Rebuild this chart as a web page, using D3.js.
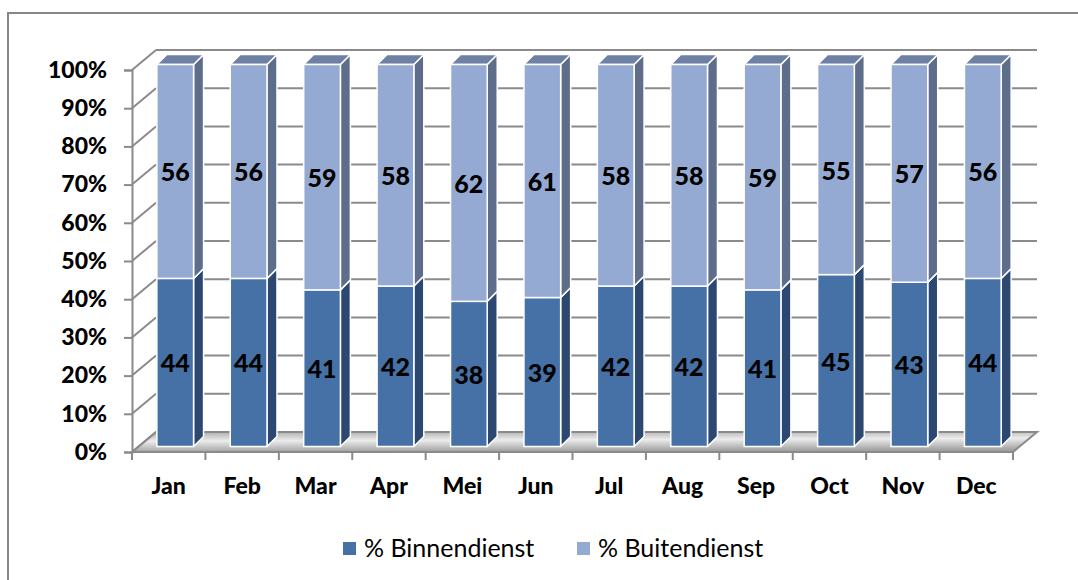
<!DOCTYPE html>
<html>
<head>
<meta charset="utf-8">
<script src="https://cdn.jsdelivr.net/npm/d3@7"></script>
<style>
  body { margin: 0; background: #fff; }
  svg { display: block; font-family: Lato, "Open Sans", sans-serif; }
</style>
</head>
<body>
<svg id="chart" width="1078" height="580"></svg>
<script>
// data
var months = ["Jan", "Feb", "Mar", "Apr", "Mei", "Jun", "Jul", "Aug", "Sep", "Oct", "Nov", "Dec"];
var binnendienst = [44, 44, 41, 42, 38, 39, 42, 42, 41, 45, 43, 44];
var buitendienst = [56, 56, 59, 58, 62, 61, 58, 58, 59, 55, 57, 56];
var yTicks = [0, 10, 20, 30, 40, 50, 60, 70, 80, 90, 100];
var seriesNames = ["% Binnendienst", "% Buitendienst"];

var svg = d3.select("#chart");

// outer frame
svg.append("rect")
	.attr("x", 8).attr("y", 13)
	.attr("width", 1100).attr("height", 620)
	.attr("fill", "none")
	.attr("stroke", "#878787")
	.attr("stroke-width", 2);

var plot = {left: 132, right: 1013, bottom: 452, top: 70};
var wall = {dx: 24, dy: -20};       // depth of the side wall / floor
var barShift = {dx: 6.5, dy: -5.5}; // bar front face sits a bit back
var barDepth = {dx: 10, dy: -10};

var x = d3.scaleBand().domain(months)
	.range([plot.left, plot.right])
	.paddingInner(0.5).paddingOuter(0.25);
var xEdge = d3.scaleBand().domain(months).range([plot.left, plot.right]);
var y = d3.scaleLinear().domain([0, 100]).range([plot.bottom, plot.top]);

var gridColor = "#8a8a8a";

// floor gradient
var defs = svg.append("defs");
var grad = defs.append("linearGradient").attr("id", "floorGrad")
	.attr("x1", 0).attr("y1", 0).attr("x2", 0.15).attr("y2", 1);
grad.append("stop").attr("offset", "0%").attr("stop-color", "#adadad");
grad.append("stop").attr("offset", "45%").attr("stop-color", "#ececec");
grad.append("stop").attr("offset", "100%").attr("stop-color", "#a2a2a2");

// floor
var floorPts = [
	[plot.left, y(0)], [plot.right, y(0)],
	[plot.right + wall.dx, y(0) + wall.dy], [plot.left + wall.dx, y(0) + wall.dy]
];
svg.append("polygon")
	.attr("points", floorPts.map(function(p) { return p.join(","); }).join(" "))
	.attr("fill", "url(#floorGrad)")
	.attr("stroke", gridColor)
	.attr("stroke-width", 2);

// back wall gridlines + side wall diagonals
var grid = svg.append("g").attr("class", "grid")
	.attr("stroke", gridColor).attr("stroke-width", 2).attr("fill", "none");

grid.selectAll(".back")
	.data(yTicks.filter(function(d) { return d > 0; }))
	.enter().append("line")
		.attr("x1", plot.left + wall.dx)
		.attr("x2", plot.right + wall.dx)
		.attr("y1", function(d) { return y(d) + wall.dy; })
		.attr("y2", function(d) { return y(d) + wall.dy; });

grid.selectAll(".side")
	.data(yTicks)
	.enter().append("line")
		.attr("x1", plot.left)
		.attr("x2", plot.left + wall.dx)
		.attr("y1", function(d) { return y(d); })
		.attr("y2", function(d) { return y(d) + wall.dy; });

// y axis
var yAxis = svg.append("g")
	.attr("transform", "translate(" + plot.left + ",0)")
	.call(d3.axisLeft(y).tickValues(yTicks).tickSize(8).tickPadding(17)
		.tickFormat(function(d) { return d + "%"; }));
yAxis.select(".domain").attr("stroke", gridColor).attr("stroke-width", 2);
yAxis.selectAll(".tick line").attr("stroke", gridColor).attr("stroke-width", 2);
yAxis.selectAll(".tick text")
	.attr("fill", "#000")
	.style("font-family", "Lato, sans-serif")
	.style("font-size", "23px")
	.style("font-weight", "900");

// x axis
var xAxis = svg.append("g")
	.attr("transform", "translate(0," + plot.bottom + ")")
	.call(d3.axisBottom(xEdge).tickSize(0).tickPadding(26));
xAxis.select(".domain").remove();
xAxis.selectAll(".tick text")
	.attr("fill", "#000")
	.style("font-family", "Lato, sans-serif")
	.style("font-size", "23px")
	.style("font-weight", "900");
xAxis.selectAll(".edge")
	.data(d3.range(months.length + 1))
	.enter().append("line")
		.attr("x1", function(i) { return plot.left + i * xEdge.step(); })
		.attr("x2", function(i) { return plot.left + i * xEdge.step(); })
		.attr("y1", 0).attr("y2", 8)
		.attr("stroke", gridColor).attr("stroke-width", 2);

// bars
var colors = [
	{front: "#4571a7", side: "#2c4870", top: "#3b5f8f"},
	{front: "#95aad2", side: "#5e6d89", top: "#6e80a3"}
];

var stacks = months.map(function(m, i) {
	return [
		{month: m, s: 0, v0: 0, v1: binnendienst[i], val: binnendienst[i]},
		{month: m, s: 1, v0: binnendienst[i], v1: binnendienst[i] + buitendienst[i], val: buitendienst[i]}
	];
});

function pts(a) { return a.map(function(p) { return p.join(","); }).join(" "); }

var bars = svg.append("g").attr("class", "bars");
var segs = bars.selectAll(".bar")
	.data(d3.merge(stacks))
	.enter().append("g").attr("class", "bar");

segs.each(function(d) {
	var g = d3.select(this);
	var x0 = x(d.month) + barShift.dx, x1 = x0 + x.bandwidth();
	var yb = y(d.v0) + barShift.dy, yt = y(d.v1) + barShift.dy;
	var c = colors[d.s];
	g.append("polygon")
		.attr("points", pts([[x1, yb], [x1 + barDepth.dx, yb + barDepth.dy],
			[x1 + barDepth.dx, yt + barDepth.dy], [x1, yt]]))
		.attr("fill", c.side).attr("stroke", "#fff").attr("stroke-width", 1.5)
		.attr("stroke-linejoin", "round");
	g.append("polygon")
		.attr("points", pts([[x0, yt], [x1, yt], [x1 + barDepth.dx, yt + barDepth.dy],
			[x0 + barDepth.dx, yt + barDepth.dy]]))
		.attr("fill", c.top).attr("stroke", "#fff").attr("stroke-width", 1.5)
		.attr("stroke-linejoin", "round");
	g.append("rect")
		.attr("x", x0).attr("y", yt)
		.attr("width", x1 - x0).attr("height", yb - yt)
		.attr("fill", c.front).attr("stroke", "#fff").attr("stroke-width", 1.5);
	g.append("text")
		.attr("x", (x0 + x1) / 2)
		.attr("y", (yb + yt) / 2)
		.attr("text-anchor", "middle")
		.attr("dominant-baseline", "central")
		.style("font-size", "25px")
		.style("font-weight", "900")
		.attr("fill", "#000")
		.text(d.val);
});

// legend
var legend = svg.append("g").attr("class", "legend");
var legendX = [343, 577];
seriesNames.forEach(function(name, i) {
	legend.append("rect")
		.attr("x", legendX[i]).attr("y", 542)
		.attr("width", 13).attr("height", 13)
		.attr("fill", colors[i].front);
	legend.append("text")
		.attr("x", legendX[i] + 21).attr("y", 557)
		.style("font-size", "25px")
		.attr("fill", "#000")
		.text(name);
});
</script>
</body>
</html>
